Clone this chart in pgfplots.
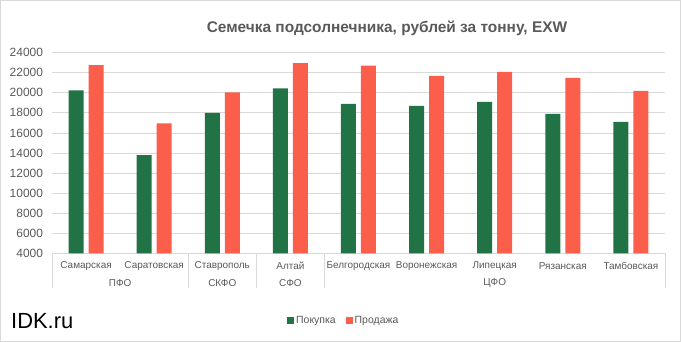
\documentclass[border=0pt]{standalone}
\usepackage{fontspec}
\setmainfont{Liberation Sans}
\usepackage{pgfplots}
\pgfplotsset{compat=1.18}
\definecolor{cgreen}{HTML}{217346}
\definecolor{cred}{HTML}{FC5E4C}
\definecolor{tgrey}{HTML}{595959}
\definecolor{lgrey}{HTML}{D9D9D9}
\begin{document}
\begin{tikzpicture}
\path[use as bounding box] (0,0) rectangle (681bp,342bp);
\draw[lgrey, line width=1bp] (0.5bp,0.5bp) rectangle (680.5bp,341.5bp);
\node[font=\bfseries\fontsize{15.5}{18}\selectfont, text=tgrey] at (387bp,314bp) {Семечка подсолнечника, рублей за тонну, EXW};
\node[anchor=base west, font=\fontsize{22}{26}\selectfont, inner sep=0pt] at (11bp,14bp) {IDK.ru};
\begin{axis}[
  at={(52bp,88.7bp)}, anchor=south west,
  scale only axis, width=613bp, height=200.6bp,
  xmin=-0.5, xmax=8.5, ymin=4000, ymax=24000,
  ytick={4000,6000,...,24000},
  scaled y ticks=false,
  xtick={0,...,8},
  xticklabels={Самарская,Саратовская,Ставрополь,Алтай,Белгородская,Воронежская,Липецкая,Рязанская,Тамбовская},
  xtick pos=bottom, ytick pos=left,
  ybar=5bp, bar width=15bp,
  axis line style={draw=none},
  ymajorgrids, major grid style={lgrey, line width=0.8bp},
  major tick length=0pt,
  extra x ticks={-0.5,1.5,2.5,3.5,8.5},
  extra x tick labels={},
  extra x tick style={major tick length=35bp, tick align=outside, tick style={lgrey, line width=0.8bp}, xmajorgrids=false, ymajorgrids=false, xtick pos=bottom},
  /pgf/number format/assume math mode=true,
  /pgf/number format/set thousands separator={},
  yticklabel style={font=\fontsize{12}{14}\selectfont, text=tgrey, xshift=-5.5bp},
  xticklabel style={anchor=center, yshift=-12.4bp, font=\fontsize{10}{12}\selectfont, text=tgrey},
  clip=false,
  legend style={at={(0.476,-0.336)}, anchor=center, draw=none, legend columns=2,
    font=\fontsize{10.5}{12}\selectfont, text=tgrey,
    /tikz/every even column/.append style={column sep=8bp}},
  legend image code/.code={\fill[#1,draw=none] (0bp,-3.5bp) rectangle (7bp,3.5bp);},
]
\addplot[fill=cgreen, draw=none] coordinates {(0,20250) (1,13800) (2,18000) (3,20450) (4,18900) (5,18700) (6,19100) (7,17900) (8,17100)};
\addplot[fill=cred, draw=none] coordinates {(0,22750) (1,16950) (2,20050) (3,22950) (4,22700) (5,21700) (6,22100) (7,21500) (8,20200)};
\legend{Покупка, Продажа}
\node[font=\fontsize{10}{12}\selectfont, text=tgrey] at (axis cs:0.5,4000) [yshift=-29.4bp] {ПФО};
\node[font=\fontsize{10}{12}\selectfont, text=tgrey] at (axis cs:2,4000) [yshift=-29.4bp] {СКФО};
\node[font=\fontsize{10}{12}\selectfont, text=tgrey] at (axis cs:3,4000) [yshift=-29.4bp] {СФО};
\node[font=\fontsize{10}{12}\selectfont, text=tgrey] at (axis cs:6,4000) [yshift=-29.4bp] {ЦФО};
\end{axis}
\end{tikzpicture}
\end{document}
